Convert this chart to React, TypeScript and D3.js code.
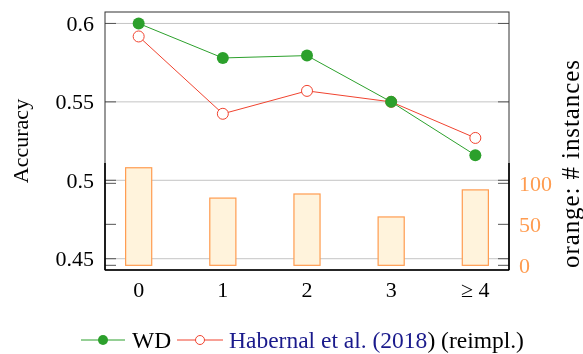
import { useEffect, useRef } from "react";
import { select, scaleLinear, line } from "d3";

const categories = [0, 1, 2, 3, 4];
const tickLabels = ["0", "1", "2", "3", "\u2265 4"];
const wdAccuracy = [0.6, 0.578, 0.5795, 0.55, 0.516];
const habernalAccuracy = [0.5917, 0.5424, 0.557, 0.55, 0.527];
const instances = [119, 82, 87, 59, 92];
const accuracyTicks = [0.45, 0.5, 0.55, 0.6];
const instanceTicks = [0, 50, 100];

const GREEN = "#2ca02c";
const RED = "#f0432f";
const ORANGE = "#ff9c50";
const FONT = "'Liberation Serif', 'Times New Roman', serif";

function App() {
  const svgRef = useRef<SVGSVGElement>(null);

  useEffect(() => {
    const svg = select(svgRef.current);
    svg.selectAll("*").remove();

    const left = 105;
    const right = 509;
    const top = 12;
    const bottom = 270;
    const barTop = 163;

    const xScale = scaleLinear().domain([-0.4, 4.4]).range([left, right]);
    const yScale = scaleLinear().domain([0.4428, 0.6073]).range([bottom, top]);
    const cScale = scaleLinear().domain([-5.7, 124.8]).range([bottom, barTop]);

    // grid
    svg
      .append("g")
      .selectAll("line")
      .data(accuracyTicks)
      .join("line")
      .attr("x1", left)
      .attr("x2", right)
      .attr("y1", (d) => yScale(d))
      .attr("y2", (d) => yScale(d))
      .attr("stroke", "#c4c4c4")
      .attr("stroke-width", 1);

    // bars (secondary axis)
    const bw = xScale(0.155) - xScale(0);
    svg
      .append("g")
      .selectAll("rect")
      .data(instances)
      .join("rect")
      .attr("x", (d, i) => xScale(categories[i]) - bw)
      .attr("width", bw * 2)
      .attr("y", (d) => cScale(d))
      .attr("height", (d) => cScale(0) - cScale(d))
      .attr("fill", "#fff3dc")
      .attr("stroke", ORANGE)
      .attr("stroke-width", 1.2);

    // tick marks, mirrored on both sides
    const tickLen = 11;
    const ticks = svg.append("g").attr("stroke", "#555").attr("stroke-width", 1);
    const allTicks = [
      ...accuracyTicks.map((d) => yScale(d)),
      ...instanceTicks.map((d) => cScale(d)),
    ];
    allTicks.forEach((y) => {
      ticks.append("line").attr("x1", left).attr("x2", left + tickLen).attr("y1", y).attr("y2", y);
      ticks.append("line").attr("x1", right - tickLen).attr("x2", right).attr("y1", y).attr("y2", y);
    });

    // frames
    svg
      .append("rect")
      .attr("x", left)
      .attr("y", top)
      .attr("width", right - left)
      .attr("height", bottom - top)
      .attr("fill", "none")
      .attr("stroke", "#333")
      .attr("stroke-width", 1);
    [left, right].forEach((x) => {
      svg
        .append("line")
        .attr("x1", x)
        .attr("x2", x)
        .attr("y1", barTop)
        .attr("y2", bottom)
        .attr("stroke", "#000")
        .attr("stroke-width", 1.6);
    });
    svg
      .append("line")
      .attr("x1", left)
      .attr("x2", right)
      .attr("y1", bottom)
      .attr("y2", bottom)
      .attr("stroke", "#000")
      .attr("stroke-width", 1.6);

    // lines
    const lineGen = line<number>()
      .x((d, i) => xScale(categories[i]))
      .y((d) => yScale(d));

    svg
      .append("path")
      .datum(habernalAccuracy)
      .attr("d", lineGen)
      .attr("fill", "none")
      .attr("stroke", RED)
      .attr("stroke-width", 1);
    svg
      .append("g")
      .selectAll("circle")
      .data(habernalAccuracy)
      .join("circle")
      .attr("cx", (d, i) => xScale(categories[i]))
      .attr("cy", (d) => yScale(d))
      .attr("r", 5.5)
      .attr("fill", "#fff")
      .attr("stroke", RED)
      .attr("stroke-width", 1);

    svg
      .append("path")
      .datum(wdAccuracy)
      .attr("d", lineGen)
      .attr("fill", "none")
      .attr("stroke", GREEN)
      .attr("stroke-width", 1);
    svg
      .append("g")
      .selectAll("circle")
      .data(wdAccuracy)
      .join("circle")
      .attr("cx", (d, i) => xScale(categories[i]))
      .attr("cy", (d) => yScale(d))
      .attr("r", 6)
      .attr("fill", GREEN);

    // tick labels
    svg
      .append("g")
      .selectAll("text")
      .data(accuracyTicks)
      .join("text")
      .attr("x", 94)
      .attr("y", (d) => yScale(d))
      .attr("dy", "0.34em")
      .attr("text-anchor", "end")
      .attr("font-family", FONT)
      .attr("font-size", 22)
      .text((d) => String(d));

    svg
      .append("g")
      .selectAll("text")
      .data(instanceTicks)
      .join("text")
      .attr("x", 519)
      .attr("y", (d) => cScale(d))
      .attr("dy", "0.34em")
      .attr("text-anchor", "start")
      .attr("font-family", FONT)
      .attr("font-size", 22)
      .attr("fill", ORANGE)
      .text((d) => String(d));

    svg
      .append("g")
      .selectAll("text")
      .data(tickLabels)
      .join("text")
      .attr("x", (d, i) => xScale(categories[i]))
      .attr("y", 297)
      .attr("text-anchor", "middle")
      .attr("font-family", FONT)
      .attr("font-size", 22)
      .text((d) => d);

    // axis labels
    svg
      .append("text")
      .attr("transform", "translate(20," + (top + bottom) / 2 + ") rotate(-90)")
      .attr("text-anchor", "middle")
      .attr("dominant-baseline", "central")
      .attr("font-family", FONT)
      .attr("font-size", 22)
      .text("Accuracy");

    svg
      .append("text")
      .attr("transform", "translate(570,164) rotate(-90)")
      .attr("text-anchor", "middle")
      .attr("dominant-baseline", "central")
      .attr("font-family", FONT)
      .attr("font-size", 25)
      .attr("textLength", 208)
      .attr("lengthAdjust", "spacing")
      .text("orange: # instances");

    // legend
    const ly = 340;
    const legend = svg.append("g").attr("font-family", FONT).attr("font-size", 23.5);
    legend.append("line").attr("x1", 81).attr("x2", 125).attr("y1", ly).attr("y2", ly).attr("stroke", GREEN);
    legend.append("circle").attr("cx", 103).attr("cy", ly).attr("r", 5).attr("fill", GREEN);
    legend.append("text").attr("x", 132).attr("y", ly).attr("dy", "0.34em").text("WD");
    legend.append("line").attr("x1", 177).attr("x2", 223).attr("y1", ly).attr("y2", ly).attr("stroke", RED);
    legend
      .append("circle")
      .attr("cx", 200)
      .attr("cy", ly)
      .attr("r", 4.5)
      .attr("fill", "#fff")
      .attr("stroke", RED);
    const lt = legend.append("text").attr("x", 229).attr("y", ly).attr("dy", "0.34em");
    lt.append("tspan").attr("fill", "#1a1a8c").text("Habernal et al. (2018");
    lt.append("tspan").attr("fill", "#000").text(") (reimpl.)");
  }, []);

  return (
    <div style={{ position: "fixed", left: 0, top: 0, width: 583, height: 354, overflow: "hidden" }}>
      <svg ref={svgRef} width={583} height={354} style={{ display: "block" }}></svg>
    </div>
  );
}

export default App;
